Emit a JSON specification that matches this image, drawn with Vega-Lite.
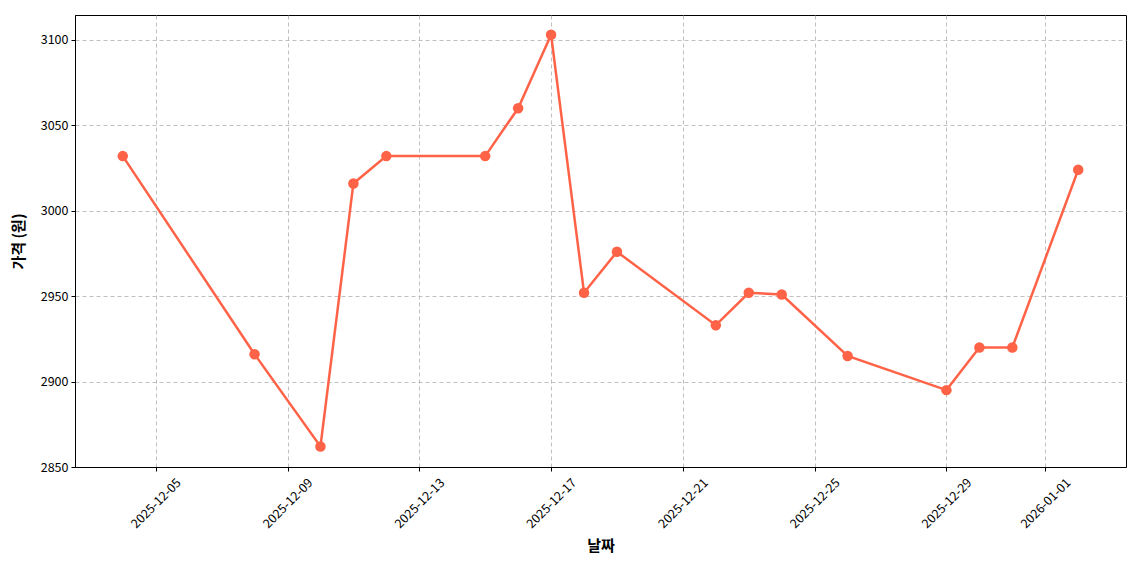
{
  "$schema": "https://vega.github.io/schema/vega-lite/v6.json",
  "width": 1051,
  "height": 452,
  "autosize": {"type": "none"},
  "padding": {"left": 75, "top": 15, "right": 14, "bottom": 103},
  "background": "white",
  "config": {
    "font": "Noto Sans CJK KR",
    "view": {"stroke": "black", "strokeWidth": 1}
  },
  "data": {
    "values": [
      {"date": "2025-12-04", "price": 3032},
      {"date": "2025-12-08", "price": 2916},
      {"date": "2025-12-10", "price": 2862},
      {"date": "2025-12-11", "price": 3016},
      {"date": "2025-12-12", "price": 3032},
      {"date": "2025-12-15", "price": 3032},
      {"date": "2025-12-16", "price": 3060},
      {"date": "2025-12-17", "price": 3103},
      {"date": "2025-12-18", "price": 2952},
      {"date": "2025-12-19", "price": 2976},
      {"date": "2025-12-22", "price": 2933},
      {"date": "2025-12-23", "price": 2952},
      {"date": "2025-12-24", "price": 2951},
      {"date": "2025-12-26", "price": 2915},
      {"date": "2025-12-29", "price": 2895},
      {"date": "2025-12-30", "price": 2920},
      {"date": "2025-12-31", "price": 2920},
      {"date": "2026-01-02", "price": 3024}
    ]
  },
  "mark": {
    "type": "line",
    "color": "#ff6347",
    "strokeWidth": 2.5,
    "point": {"filled": true, "size": 110, "color": "#ff6347", "opacity": 1}
  },
  "encoding": {
    "x": {
      "field": "date",
      "type": "temporal",
      "scale": {
        "type": "utc",
        "domain": [
          {"year": 2025, "month": 12, "date": 2, "hours": 13, "minutes": 12, "utc": true},
          {"year": 2026, "month": 1, "date": 3, "hours": 10, "minutes": 48, "utc": true}
        ]
      },
      "axis": {
        "title": "날짜",
        "titleFontSize": 15,
        "titleFontWeight": "bold",
        "titleColor": "black",
        "titlePadding": 8,
        "values": [
          {"year": 2025, "month": 12, "date": 5, "utc": true},
          {"year": 2025, "month": 12, "date": 9, "utc": true},
          {"year": 2025, "month": 12, "date": 13, "utc": true},
          {"year": 2025, "month": 12, "date": 17, "utc": true},
          {"year": 2025, "month": 12, "date": 21, "utc": true},
          {"year": 2025, "month": 12, "date": 25, "utc": true},
          {"year": 2025, "month": 12, "date": 29, "utc": true},
          {"year": 2026, "month": 1, "date": 1, "utc": true}
        ],
        "labelExpr": "utcFormat(datum.value, '%Y-%m-%d')",
        "labelAngle": -45,
        "labelAlign": "center",
        "labelBaseline": "middle",
        "labelPadding": 32,
        "labelFontSize": 12.5,
        "labelColor": "black",
        "tickSize": 4,
        "tickColor": "black",
        "domainColor": "black",
        "grid": true,
        "gridColor": "#b0b0b0",
        "gridDash": [4, 3],
        "gridOpacity": 0.8,
        "labelFlush": false,
        "labelOverlap": false
      }
    },
    "y": {
      "field": "price",
      "type": "quantitative",
      "scale": {"domain": [2850, 3114.6], "nice": false, "zero": false},
      "axis": {
        "title": "가격 (원)",
        "titleFontSize": 15,
        "titleFontWeight": "bold",
        "titleColor": "black",
        "titlePadding": 14,
        "values": [2850, 2900, 2950, 3000, 3050, 3100],
        "format": "d",
        "labelFontSize": 12.5,
        "labelColor": "black",
        "labelPadding": 3,
        "tickSize": 4,
        "tickColor": "black",
        "domainColor": "black",
        "grid": true,
        "gridColor": "#b0b0b0",
        "gridDash": [4, 3],
        "gridOpacity": 0.8,
        "labelFlush": false
      }
    }
  }
}
